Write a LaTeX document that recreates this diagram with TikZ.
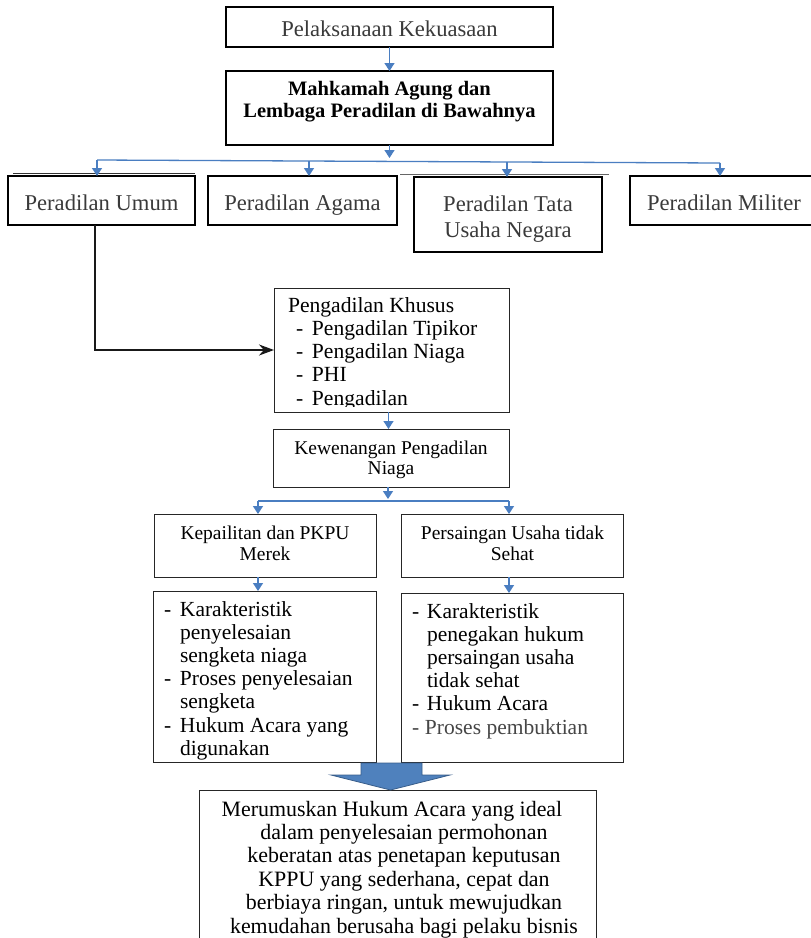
\documentclass[tikz,border=0pt]{standalone}
\usepackage{fontspec}
\setmainfont{Liberation Serif}
\usetikzlibrary{arrows.meta}

\definecolor{linkblue}{RGB}{74,126,193}
\definecolor{blockfill}{RGB}{79,129,189}
\definecolor{blockline}{RGB}{56,93,138}
\definecolor{softink}{RGB}{58,58,58}
\definecolor{greyink}{RGB}{70,70,70}

% invisible strut that fixes the top of the first line at 1em above its baseline
\newcommand{\firstline}{\rule{0pt}{1em}}
\newcommand{\fs}[2]{\fontsize{#1}{#2}\selectfont}

\begin{document}
\begin{tikzpicture}[x=1pt,y=-1pt,
  frame/.style={draw=black, line width=1.6pt, inner sep=0pt, outer sep=0pt},
  thinframe/.style={draw=black!85, line width=1pt, inner sep=0pt, outer sep=0pt},
  oneline/.style={inner sep=0pt, outer sep=0pt, anchor=base},
  lefttext/.style={inner sep=0pt, outer sep=0pt, anchor=north west, align=left},
  centertext/.style={inner sep=0pt, outer sep=0pt, anchor=north, align=center},
  link/.style={draw=linkblue, line width=1.3pt, -{Triangle[width=10pt,length=8pt]}},
  bus/.style={draw=linkblue, line width=1.3pt},
  feed/.style={draw=black!90, line width=1.8pt, -{Stealth[length=15pt,width=11pt]}},
]
\fill[white] (0,0) rectangle (811,938);
\useasboundingbox (0,0) rectangle (811,938);

% ---------- boxes ----------
\node[frame, minimum width=327pt, minimum height=40pt] (exec) at (389.5,27) {};
\node[frame, line width=1.8pt, minimum width=327pt, minimum height=74pt] (court) at (389.5,108) {};

\node[frame, minimum width=187pt, minimum height=49pt] (umum) at (101.5,200.5) {};
\node[frame, minimum width=189pt, minimum height=49pt] (agama) at (302.5,200.5) {};
\node[frame, minimum width=188pt, minimum height=75pt] (tun) at (508,214.5) {};
\node[frame, minimum width=184pt, minimum height=49pt] (militer) at (722,200.5) {};
% faint rules above two of the boxes
\draw[black!80, line width=0.8pt] (13,173) -- (195,173);
\draw[black!60, line width=0.7pt] (400,174.5) -- (609,174.5);

\node[thinframe, minimum width=235pt, minimum height=124pt] (khusus) at (391.5,350) {};
\node[thinframe, minimum width=236pt, minimum height=58pt] (niaga) at (391,458) {};
\node[thinframe, minimum width=222pt, minimum height=63pt] (pailit) at (265,545.5) {};
\node[thinframe, minimum width=222pt, minimum height=63pt] (persaingan) at (512,545.5) {};
\node[thinframe, minimum width=223pt, minimum height=171pt] (pailitlist) at (264.5,676.5) {};
\node[thinframe, minimum width=222pt, minimum height=169pt] (persainganlist) at (512,677.5) {};
\node[thinframe, minimum width=397pt, minimum height=170pt] (result) at (397.5,875) {};

% ---------- texts ----------
\node[oneline, text=softink, font=\fs{22.6}{25}] (exec-t) at (389.5,36) {Pelaksanaan Kekuasaan};
\node[centertext, font=\fs{20.5}{22}\bfseries] (court-t) at (389.5,74.5)
  {\firstline Mahkamah Agung dan\\Lembaga Peradilan di Bawahnya};

\node[oneline, text=softink, font=\fs{22.6}{25}] (umum-t) at (101.5,210) {Peradilan Umum};
\node[oneline, text=softink, font=\fs{22.6}{25}] (agama-t) at (302.5,210) {Peradilan Agama};
\node[centertext, text=softink, font=\fs{22.6}{25.5}] (tun-t) at (508,188.9)
  {\firstline Peradilan Tata\\Usaha Negara};
\node[oneline, text=softink, font=\fs{22.6}{25}] (militer-t) at (724,210) {Peradilan Militer};

\begin{scope}
  \clip (khusus.north west) rectangle ([yshift=6pt]khusus.south east);
  \node[lefttext, font=\fs{21.6}{23.3}] (khusus-t) at (288,290.4)
    {\firstline Pengadilan Khusus\\
     \makebox[24pt][l]{\hspace*{8pt}-}Pengadilan Tipikor\\
     \makebox[24pt][l]{\hspace*{8pt}-}Pengadilan Niaga\\
     \makebox[24pt][l]{\hspace*{8pt}-}PHI\\
     \makebox[24pt][l]{\hspace*{8pt}-}Pengadilan};
\end{scope}

\node[centertext, font=\fs{19.5}{20.5}] (niaga-t) at (391,434.5)
  {\firstline Kewenangan Pengadilan\\Niaga};
\node[centertext, font=\fs{19.5}{21.5}] (pailit-t) at (265,519.5)
  {\firstline Kepailitan dan PKPU\\Merek};
\node[centertext, font=\fs{19.5}{21.5}] (persaingan-t) at (512.5,519.5)
  {\firstline Persaingan Usaha tidak\\Sehat};

\begin{scope}
  \clip (pailitlist.north west) rectangle ([yshift=2pt]pailitlist.south east);
  \node[lefttext, font=\fs{21.5}{23.2}] (pailitlist-t) at (164,594.5)
    {\firstline\makebox[16pt][l]{-}Karakteristik\\
     \hspace*{16pt}penyelesaian\\
     \hspace*{16pt}sengketa niaga\\
     \makebox[16pt][l]{-}Proses penyelesaian\\
     \hspace*{16pt}sengketa\\
     \makebox[16pt][l]{-}Hukum Acara yang\\
     \hspace*{16pt}digunakan};
\end{scope}

\node[lefttext, font=\fs{21.5}{23.2}] (persainganlist-t) at (412,596.5)
  {\firstline\makebox[15pt][l]{-}Karakteristik\\
   \hspace*{15pt}penegakan hukum\\
   \hspace*{15pt}persaingan usaha\\
   \hspace*{15pt}tidak sehat\\
   \makebox[15pt][l]{-}Hukum Acara\\
   \textcolor{greyink}{\makebox[13pt][l]{-}Proses pembuktian}};

\node[centertext, font=\fs{21.9}{23.4}] (result-t) at (404,794.1)
  {\firstline Merumuskan Hukum Acara yang ideal\hspace*{24pt}\\
   dalam penyelesaian permohonan\\
   keberatan atas penetapan keputusan\\
   KPPU yang sederhana, cepat dan\\
   berbiaya ringan, untuk mewujudkan\\
   kemudahan berusaha bagi pelaku bisnis};

% ---------- connectors ----------
\draw[link] (exec.south) -- (court.north);

\coordinate (busL) at (97,160);
\coordinate (busA) at (309,161);
\coordinate (busT) at (507,162);
\coordinate (busR) at (720,163);
\draw[link, shorten >=2pt] (court.south) -- (court.south |- busL);
\draw[bus] (busL) -- (busR);
\draw[link] (busL) -- (busL |- umum.north);
\draw[link] (busA) -- (busA |- agama.north);
\draw[link] (busT) -- (busT |- tun.north);
\draw[link] (busR) -- (busR |- militer.north);

\draw[feed] ([xshift=-6.5pt]umum.south) |- (khusus.west);

\draw[link] ([xshift=-3pt]khusus.south) -- ([xshift=-3pt]khusus.south |- niaga.north);

\coordinate (split) at (388,501);
\coordinate (splitL) at (258,501);
\coordinate (splitR) at (509,501);
\draw[link, shorten >=2pt] (niaga.south -| split) -- (split);
\draw[bus] (splitL) -- (splitR);
\draw[link] (splitL) -- (splitL |- pailit.north);
\draw[link] (splitR) -- (splitR |- persaingan.north);
\draw[link] (splitL |- pailit.south) -- (splitL |- pailitlist.north);
\draw[link] (splitR |- persaingan.south) -- (splitR |- persainganlist.north);

% broad arrow leading down to the conclusion
\filldraw[fill=blockfill, draw=blockline, line width=0.8pt, line join=miter]
  (361,763) -- (422,763) -- (422,775) -- (450,775) -- (result.north -| 390.5,0)
  -- (331,775) -- (361,775) -- cycle;
\end{tikzpicture}
\end{document}
